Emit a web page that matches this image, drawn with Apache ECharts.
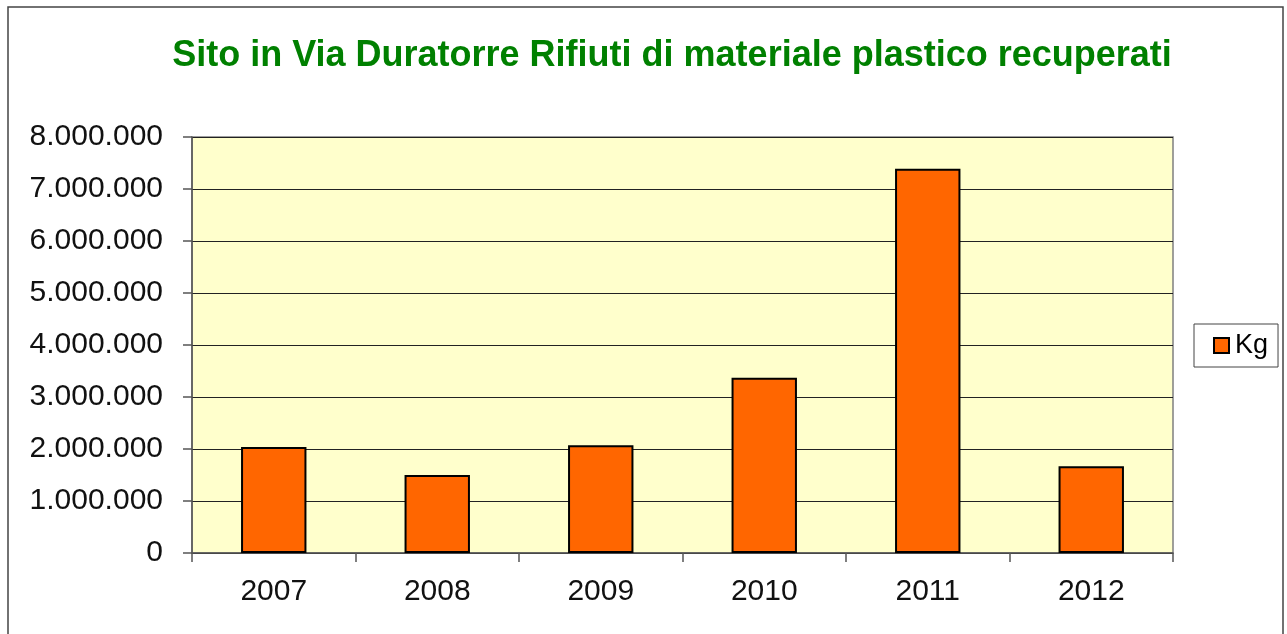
<!DOCTYPE html>
<html>
<head>
<meta charset="utf-8">
<script src="https://cdn.jsdelivr.net/npm/echarts@6/dist/echarts.min.js"></script>
<style>html,body{margin:0;padding:0;background:#fff;}#c{width:1287px;height:634px;}</style>
</head>
<body>
<div id="c"></div>
<script>
var categories = ['2007', '2008', '2009', '2010', '2011', '2012'];
var kgValues = [2040000, 1500000, 2070000, 3370000, 7390000, 1670000];
var seriesName = 'Kg';
var chartTitle = 'Sito in Via Duratorre Rifiuti di materiale plastico recuperati';

function fmt(v) {
  return String(Math.round(v)).replace(/\B(?=(\d{3})+(?!\d))/g, '.');
}

var chart = echarts.init(document.getElementById('c'), null, {renderer: 'canvas'});
chart.setOption({
  backgroundColor: '#ffffff',
  animation: false,
  graphic: [
    {type: 'rect', shape: {x: 8, y: 7, width: 1275, height: 640}, style: {fill: 'none', stroke: '#444', lineWidth: 1.5}, z: -10}
  ],
  title: {
    text: chartTitle,
    left: 667, textAlign: 'center', top: 33,
    textStyle: {color: '#008000', fontSize: 36, fontWeight: 'bold', fontFamily: 'Liberation Sans, Arial, sans-serif'}
  },
  legend: {
    data: [seriesName],
    left: 1194, top: 324,
    padding: [8, 10, 8, 19],
    borderColor: '#444', borderWidth: 1, backgroundColor: '#fff',
    itemWidth: 15, itemHeight: 15, itemGap: 4,
    icon: 'rect',
    textStyle: {fontSize: 27, color: '#000', fontFamily: 'Liberation Sans, Arial, sans-serif', padding: [0, 0, 0, 1]}
  },
  grid: {left: 192, right: 114, top: 137, bottom: 81, show: true, backgroundColor: '#FFFFCC', borderColor: '#808080', borderWidth: 1.5},
  xAxis: {
    type: 'category', data: categories,
    axisLine: {lineStyle: {color: '#555', width: 1.5}},
    axisTick: {show: true, length: 9, lineStyle: {color: '#555', width: 1.5}},
    axisLabel: {fontSize: 30, color: '#111', margin: 24, fontFamily: 'Liberation Sans, Arial, sans-serif'}
  },
  yAxis: {
    type: 'value', min: 0, max: 8000000, interval: 1000000,
    axisLine: {show: true, lineStyle: {color: '#555', width: 1.5}},
    axisTick: {show: true, length: 9, lineStyle: {color: '#555', width: 1.5}},
    splitLine: {lineStyle: {color: '#222', width: 1.2}},
    axisLabel: {fontSize: 30, color: '#111', margin: 29, formatter: fmt, fontFamily: 'Liberation Sans, Arial, sans-serif'}
  },
  series: [{
    name: seriesName, type: 'bar', data: kgValues, barWidth: '40%',
    itemStyle: {color: '#FF6600', borderColor: '#000', borderWidth: 2}
  }]
});
</script>
</body>
</html>
